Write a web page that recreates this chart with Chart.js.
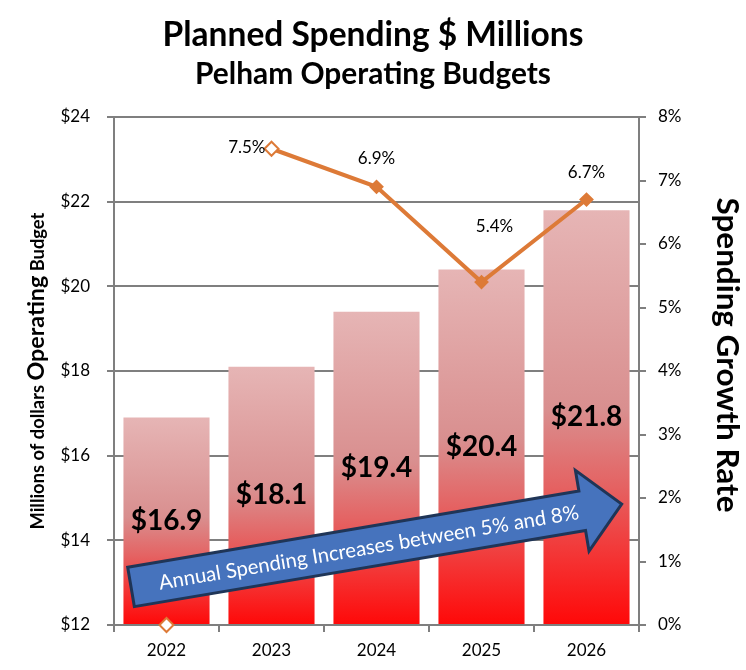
<!DOCTYPE html>
<html><head><meta charset="utf-8">
<script src="https://cdn.jsdelivr.net/npm/chart.js@4.4.0/dist/chart.umd.min.js"></script>
<style>html,body{margin:0;padding:0;background:#fff;}#wrap{width:746px;height:670px;}</style>
</head><body><div id="wrap"><canvas id="c" width="746" height="670"></canvas></div>
<script>
// ---- data ----
const categories = ['2022', '2023', '2024', '2025', '2026'];
const spending = [16.9, 18.1, 19.4, 20.4, 21.8];          // $ millions
const growthRate = [0, 7.5, 6.9, 5.4, 6.7];               // percent
const spendingLabels = ['$16.9', '$18.1', '$19.4', '$20.4', '$21.8'];
const growthLabels = ['', '7.5%', '6.9%', '5.4%', '6.7%'];
const spendAxis = { min: 12, max: 24, step: 2 };
const rateAxis = { min: 0, max: 8, step: 1 };
const titleText = 'Planned Spending $ Millions';
const subtitleText = 'Pelham Operating Budgets';
const leftTitleParts = ['Millions of dollars ', 'Operating', ' Budget'];
const rightTitleText = 'Spending Growth Rate';
const arrowText = 'Annual Spending Increases between 5% and 8%';

// ---- style ----
const FONT = 'Lato, "Open Sans", sans-serif';
const GRAY = '#7f7f7f';
const ORANGE = '#dd7a37';

function fitSize(ctx, text, weight, target, base) {
  ctx.font = weight + ' ' + base + 'px ' + FONT;
  const w = ctx.measureText(text).width;
  return base * target / w;
}

function barGradient(c) {
  const chart = c.chart;
  if (!chart.chartArea || c.type !== 'data') return '#e06060';
  const ys = chart.scales.y;
  const top = ys.getPixelForValue(c.parsed.y);
  const bottom = ys.getPixelForValue(spendAxis.min);
  const g = chart.ctx.createLinearGradient(0, top, 0, bottom);
  g.addColorStop(0, '#e6b5b5');
  g.addColorStop(0.48, '#d98f8f');
  g.addColorStop(0.66, '#e46464');
  g.addColorStop(0.85, '#f53030');
  g.addColorStop(1, '#ff0808');
  return g;
}

const lineLabelPos = [null,
  { dx: -6, dy: -1, align: 'right' },
  { dx: 0, dy: -28, align: 'center' },
  { dx: 13, dy: -56, align: 'center' },
  { dx: 0, dy: -27, align: 'center' }];

const decor = {
  id: 'decor',
  afterDatasetsDraw(chart) {
    const { ctx, chartArea: a } = chart;
    const w = a.right - a.left, h = a.bottom - a.top;
    // arrow annotation
    ctx.save();
    const x0 = a.left + 0.0324 * w, y0 = a.top + 0.925 * h;
    const x1 = a.left + 0.967 * w, y1 = a.top + 0.762 * h;
    const L = Math.hypot(x1 - x0, y1 - y0), ang = Math.atan2(y1 - y0, x1 - x0);
    const sh = 20, hh = 41, hl = 40;
    ctx.translate(x0, y0); ctx.rotate(ang);
    ctx.beginPath();
    ctx.moveTo(0, -sh); ctx.lineTo(L - hl, -sh); ctx.lineTo(L - hl, -hh); ctx.lineTo(L, 0);
    ctx.lineTo(L - hl, hh); ctx.lineTo(L - hl, sh); ctx.lineTo(0, sh); ctx.closePath();
    ctx.fillStyle = '#4673bd'; ctx.fill();
    ctx.lineWidth = 3; ctx.lineJoin = 'miter'; ctx.strokeStyle = '#1f3557'; ctx.stroke();
    const fs = fitSize(ctx, arrowText, 'normal', 426, 20);
    ctx.font = 'normal ' + fs + 'px ' + FONT;
    ctx.fillStyle = '#ffffff'; ctx.textAlign = 'center'; ctx.textBaseline = 'middle';
    ctx.fillText(arrowText, 241, 1);
    ctx.restore();

    // bar value labels (centered in each bar)
    ctx.save();
    const bm = chart.getDatasetMeta(1);
    ctx.font = 'bold 28px ' + FONT; ctx.fillStyle = '#000'; ctx.textAlign = 'center'; ctx.textBaseline = 'middle';
    bm.data.forEach((el, i) => {
      ctx.fillText(spendingLabels[i], el.x, (el.y + el.base) / 2);
    });
    // line labels
    const lm = chart.getDatasetMeta(0);
    ctx.font = 'normal 17px ' + FONT;
    lm.data.forEach((el, i) => {
      const p = lineLabelPos[i];
      if (!p || !growthLabels[i]) return;
      ctx.textAlign = p.align;
      ctx.fillText(growthLabels[i], el.x + p.dx, el.y + p.dy);
    });
    ctx.restore();
  },
  afterDraw(chart) {
    const { ctx, chartArea: a } = chart;
    ctx.save();
    ctx.fillStyle = '#000'; ctx.textAlign = 'center'; ctx.textBaseline = 'middle';
    // titles
    let fs = fitSize(ctx, titleText, 'bold', 421, 32);
    ctx.font = 'bold ' + fs + 'px ' + FONT;
    ctx.fillText(titleText, chart.width / 2, 35);
    fs = fitSize(ctx, subtitleText, 'bold', 356, 27);
    ctx.font = 'bold ' + fs + 'px ' + FONT;
    ctx.fillText(subtitleText, chart.width / 2, 74);

    // left axis title (mixed sizes)
    const rel = [1, 1.27, 1];
    const base = 18;
    let total = 0;
    leftTitleParts.forEach((t, i) => { ctx.font = 'bold ' + (base * rel[i]) + 'px ' + FONT; total += ctx.measureText(t).width; });
    const k = 317 / total;
    ctx.save();
    ctx.translate(44, (a.top + a.bottom) / 2);
    ctx.rotate(-Math.PI / 2);
    ctx.textAlign = 'left'; ctx.textBaseline = 'alphabetic';
    let x = -317 / 2;
    leftTitleParts.forEach((t, i) => {
      ctx.font = 'bold ' + (base * rel[i] * k) + 'px ' + FONT;
      ctx.fillText(t, x, 0);
      x += ctx.measureText(t).width;
    });
    ctx.restore();

    // right axis title
    ctx.save();
    fs = fitSize(ctx, rightTitleText, 'bold', 315, 28);
    ctx.font = 'bold ' + fs + 'px ' + FONT;
    ctx.translate(727, 355);
    ctx.rotate(Math.PI / 2);
    ctx.textAlign = 'center'; ctx.textBaseline = 'middle';
    ctx.fillText(rightTitleText, 0, 0);
    ctx.restore();
    ctx.restore();
  }
};

const tickFont = { family: FONT, size: 17 };

new Chart(document.getElementById('c'), {
  data: {
    labels: categories,
    datasets: [
      {
        type: 'line', label: 'Growth', data: growthRate, yAxisID: 'y1', order: 0,
        borderColor: ORANGE, borderWidth: 4, tension: 0, clip: false,
        pointStyle: 'rectRot', pointRadius: [7, 7, 6, 6, 6],
        pointBackgroundColor: ['#ffffff', '#ffffff', ORANGE, ORANGE, ORANGE],
        pointBorderColor: ORANGE, pointBorderWidth: 2,
        segment: { borderColor: s => s.p0DataIndex === 0 ? 'rgba(0,0,0,0)' : ORANGE }
      },
      {
        type: 'bar', label: 'Spending', data: spending, yAxisID: 'y', order: 1,
        base: spendAxis.min,
        backgroundColor: barGradient, borderWidth: 0,
        barPercentage: 0.82, categoryPercentage: 1
      }
    ]
  },
  options: {
    responsive: false, animation: false,
    layout: { padding: { top: 117, left: 0, right: 0, bottom: 0 } },
    plugins: { legend: { display: false }, tooltip: { enabled: false }, title: { display: false } },
    scales: {
      x: {
        grid: { offset: true, drawOnChartArea: false, tickLength: 7, color: GRAY, lineWidth: 2 },
        border: { color: GRAY, width: 2 },
        ticks: { font: tickFont, color: '#000', padding: 8 },
        afterFit: s => { s.height = 45; }
      },
      y: {
        position: 'left', min: spendAxis.min, max: spendAxis.max,
        ticks: { stepSize: spendAxis.step, callback: v => '$' + v, font: tickFont, color: '#000', padding: 17 },
        grid: { color: GRAY, lineWidth: 2, tickLength: 7 },
        border: { color: GRAY, width: 2 },
        afterFit: s => { s.width = 114; }
      },
      y1: {
        position: 'right', min: rateAxis.min, max: rateAxis.max,
        ticks: { stepSize: rateAxis.step, callback: v => v + '%', font: tickFont, color: '#000', padding: 12 },
        grid: { drawOnChartArea: false, color: GRAY, lineWidth: 2, tickLength: 7 },
        border: { color: GRAY, width: 2 },
        afterFit: s => { s.width = 107; }
      }
    }
  },
  plugins: [decor]
});
</script>
</body></html>
